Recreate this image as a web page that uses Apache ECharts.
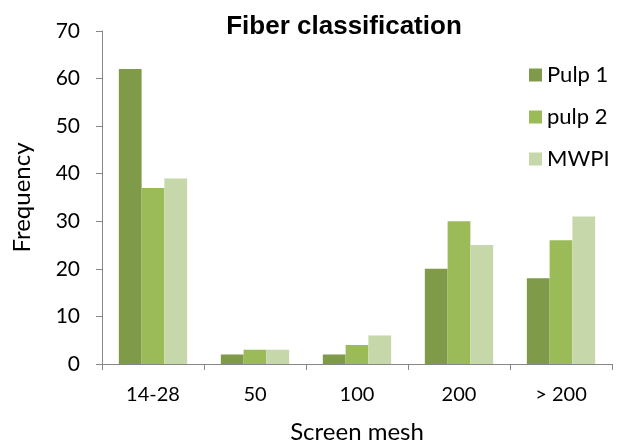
<!DOCTYPE html>
<html>
<head>
<meta charset="utf-8">
<script src="https://cdn.jsdelivr.net/npm/echarts@6/dist/echarts.min.js"></script>
<style>
  html, body { margin: 0; padding: 0; background: #fff; }
  #chart { width: 630px; height: 444px; }
</style>
</head>
<body>
<div id="chart"></div>
<script>
// Screen-mesh categories and frequency per pulp sample
const categories = ['14-28', '50', '100', '200', '> 200'];
const pulp1 = [62, 2, 2, 20, 18];
const pulp2 = [37, 3, 4, 30, 26];
const mwpi = [39, 3, 6, 25, 31];
const seriesNames = ['Pulp 1', 'pulp 2', 'MWPI'];
const colors = ['#7F9A48', '#9BBB59', '#C6D7A9'];

const font = 'Lato, "Liberation Sans", Arial, sans-serif';
const chart = echarts.init(document.getElementById('chart'), null, { renderer: 'canvas' });

const seriesData = [pulp1, pulp2, mwpi];
chart.setOption({
  animation: false,
  backgroundColor: '#fff',
  title: {
    text: 'Fiber classification',
    left: 339,
    textAlign: 'center',
    top: 9,
    textStyle: { fontFamily: '"Liberation Sans", Arial, sans-serif', fontWeight: 'bold', fontSize: 26, color: '#000' }
  },
  legend: {
    orient: 'vertical',
    left: 524,
    top: 59,
    itemGap: 20,
    itemWidth: 13,
    itemHeight: 13,
    icon: 'rect',
    textStyle: { fontFamily: font, fontSize: 22, lineHeight: 22, color: '#000' },
    data: seriesNames
  },
  grid: { left: 102, top: 31, right: 18, bottom: 80, outerBoundsMode: 'none', containLabel: false },
  xAxis: {
    type: 'category',
    data: categories,
    name: 'Screen mesh',
    nameLocation: 'middle',
    nameGap: 56,
    nameTextStyle: { fontFamily: font, fontSize: 24, color: '#000' },
    axisLine: { lineStyle: { color: '#868686', width: 1 } },
    axisTick: { show: true, length: 6, lineStyle: { color: '#868686' } },
    axisLabel: { fontFamily: font, fontSize: 20, color: '#000', margin: 21 }
  },
  yAxis: {
    type: 'value',
    min: 0,
    max: 70,
    interval: 10,
    name: 'Frequency',
    nameLocation: 'middle',
    nameGap: 68,
    nameTextStyle: { fontFamily: font, fontSize: 24, color: '#000' },
    axisLine: { show: true, lineStyle: { color: '#868686', width: 1 } },
    axisTick: { show: true, length: 6, lineStyle: { color: '#868686' } },
    splitLine: { show: false },
    axisLabel: { fontFamily: font, fontSize: 21, color: '#000', margin: 22 }
  },
  series: seriesNames.map((name, i) => ({
    name: name,
    type: 'bar',
    data: seriesData[i],
    barGap: '0%',
    barCategoryGap: '33%',
    itemStyle: { color: colors[i] }
  }))
});
</script>
</body>
</html>
